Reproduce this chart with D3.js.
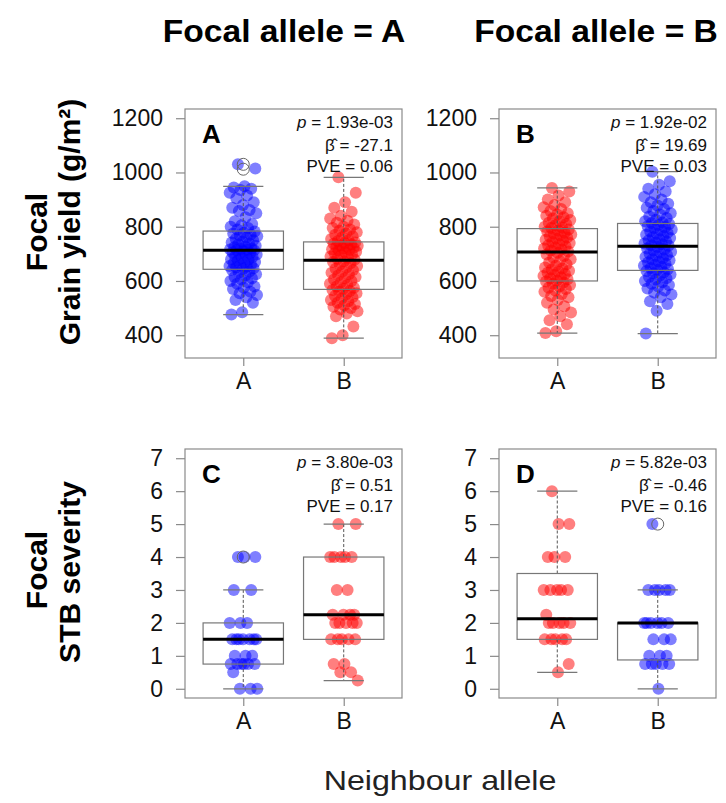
<!DOCTYPE html>
<html><head><meta charset="utf-8">
<script src="https://cdn.jsdelivr.net/npm/d3@7/dist/d3.min.js"></script>
<style>body{margin:0;background:#fff}svg{display:block}text{font-family:"Liberation Sans",Arial,sans-serif}</style>
</head><body>
<script>
// ---------- data ----------
const categories = ["A", "B"];
const yieldTicks = [400, 600, 800, 1000, 1200];
const stbTicks = [0, 1, 2, 3, 4, 5, 6, 7];
const columnTitles = ["Focal allele = A", "Focal allele = B"];
const panelLetters = ["A", "B", "C", "D"];

// Grain yield (g/m2), focal allele A
const yieldFocalA_nbA = [1030,1015,949,945,940,935,925,915,905,890,880,870,862,858,850,835,820,810,805,800,795,790,
  782,778,775,770,768,765,760,755,750,745,742,738,735,730,727,724,720,718,716,715,714,713,
  710,705,702,700,698,695,690,688,685,680,678,675,670,668,665,660,658,655,652,650,647,644,
  640,635,630,625,620,615,610,605,600,595,590,580,575,570,560,555,548,540,530,520,485,476];
const yieldFocalA_nbB = [982,925,890,870,855,840,830,822,815,808,800,795,790,785,780,775,770,765,760,755,750,746,
  742,740,737,735,732,730,727,725,722,720,717,715,712,708,705,702,698,695,690,686,682,678,
  673,670,665,660,655,650,645,640,635,630,625,620,615,610,605,600,595,590,585,580,575,571,
  567,563,560,555,550,545,540,535,530,525,520,515,510,505,500,495,488,480,470,432,400,389];
// Grain yield, focal allele B
const yieldFocalB_nbA = [943,930,915,900,890,880,872,865,858,850,845,840,835,830,825,820,815,810,805,800,797,795,
  790,786,782,778,775,771,768,764,760,756,752,748,744,740,736,732,728,724,720,716,712,709,
  704,698,692,686,680,674,668,662,656,650,646,642,638,634,630,626,622,618,614,610,606,602,
  598,594,590,585,580,575,570,565,560,552,545,540,530,520,507,495,484,470,455,440,415,408];
const yieldFocalB_nbB = [1003,968,955,940,930,920,910,900,890,885,878,870,865,858,850,845,838,832,826,820,816,814,
  810,806,802,798,795,790,786,782,778,774,770,766,762,758,754,750,746,742,738,735,732,730,
  725,720,716,712,708,704,700,696,692,688,684,680,676,672,668,664,660,656,652,648,644,641,
  637,632,628,624,620,615,610,605,600,595,590,585,580,572,565,557,550,540,525,515,490,406];
// STB severity
const stbFocalA_nbA = [4,4,4,3,3,2,2,2,1.5,1.5,1.5,1.5,1.5,1.5,1.5,1,1,1,0.75,0.75,0.75,0.75,0.75,0.75,0.5,0,0,0];
const stbFocalA_nbB = [5,5,4,4,4,4,4,3,3,2.25,2.25,2.25,2.25,2,2,2,2,2,1.5,1.5,1.5,1.5,1.5,0.75,0.75,0.5,0.5,0.25];
const stbFocalB_nbA = [6,5,5,4,4,4,3,3,3,3,3,2.25,2,2,2,2,2,1.5,1.5,1.5,1.5,1.5,0.75,0.5];
const stbFocalB_nbB = [5,3,3,3,3,3,2,2,2,2,2,2,1.5,1.5,1.5,1,1,1,0.75,0.75,0.75,0.75,0.75,0];

// box statistics [lower whisker, Q1, median, Q3, upper whisker]
const boxFocalA_yield = [[476,643,713,784,949],[389,569,676,744,982]];
const boxFocalB_yield = [[408,600,707,793,943],[406,639,728,812,1003]];
const boxFocalA_stb = [[0,0.75,1.5,2,3],[0.25,1.5,2.25,4,5]];
const boxFocalB_stb = [[0.5,1.5,2.125,3.5,6],[0,0.875,2,2,3]];
const outliersFocalA_yield = [[1030,1012],[]];
const outliersFocalB_yield = [[],[]];
const outliersFocalA_stb = [[4],[]];
const outliersFocalB_stb = [[],[5]];

const pValues = ["1.93e-03","1.92e-02","3.80e-03","5.82e-03"];
const betas = ["-27.1","19.69","0.51","-0.46"];
const pves = ["0.06","0.03","0.17","0.16"];

// ---------- drawing ----------
const W = 726, H = 803;
const svg = d3.select("body").append("svg").attr("width", W).attr("height", H);
const BLUE = "#0000ff", RED = "#ff0000";
const FRAME = "#8a8a8a";

function stretch(sel, k) {
  sel.each(function () {
    const L = this.getComputedTextLength();
    d3.select(this).attr("textLength", L * k).attr("lengthAdjust", "spacingAndGlyphs");
  });
}

const panels = [
  {left:185, top:109, data:[yieldFocalA_nbA, yieldFocalA_nbB], box:boxFocalA_yield, out:outliersFocalA_yield, focal:"A", domain:[316,1234], ticks:yieldTicks},
  {left:499, top:109, data:[yieldFocalB_nbA, yieldFocalB_nbB], box:boxFocalB_yield, out:outliersFocalB_yield, focal:"B", domain:[316,1234], ticks:yieldTicks},
  {left:185, top:449, data:[stbFocalA_nbA, stbFocalA_nbB], box:boxFocalA_stb, out:outliersFocalA_stb, focal:"A", domain:[-0.28,7.28], ticks:stbTicks},
  {left:499, top:449, data:[stbFocalB_nbA, stbFocalB_nbB], box:boxFocalB_stb, out:outliersFocalB_stb, focal:"B", domain:[-0.28,7.28], ticks:stbTicks}
];
const PW = 217, PH = 249;

panels.forEach((p, pi) => {
  const g = svg.append("g").attr("transform", `translate(${p.left},${p.top})`);
  const x = d3.scaleLinear().domain([0.42, 2.58]).range([0, PW]);
  const y = d3.scaleLinear().domain(p.domain).range([PH, 0]);
  const boxHalf = x(1.4) - x(1);

  // points
  categories.forEach((c, ci) => {
    const col = c === p.focal ? BLUE : RED;
    g.append("g").selectAll("circle").data(p.data[ci]).join("circle")
      .attr("cx", (d, i) => x(ci + 1 + (((i * 0.6180339887 + 0.31) % 1) - 0.5) * 0.28))
      .attr("cy", d => y(d))
      .attr("r", 6)
      .attr("fill", col).attr("fill-opacity", 0.5);
  });

  // boxes
  categories.forEach((c, ci) => {
    const [lo, q1, med, q3, hi] = p.box[ci];
    const cx = x(ci + 1);
    const bg = g.append("g");
    bg.append("line").attr("x1", cx).attr("x2", cx).attr("y1", y(q3)).attr("y2", y(hi))
      .attr("stroke", "#555").attr("stroke-dasharray", "3,2").attr("stroke-width", 1);
    bg.append("line").attr("x1", cx).attr("x2", cx).attr("y1", y(q1)).attr("y2", y(lo))
      .attr("stroke", "#555").attr("stroke-dasharray", "3,2").attr("stroke-width", 1);
    bg.append("rect").attr("x", cx - boxHalf).attr("width", 2 * boxHalf)
      .attr("y", y(q3)).attr("height", y(q1) - y(q3))
      .attr("fill", "none").attr("stroke", "#777").attr("stroke-width", 1.2);
    [lo, hi].forEach(v => bg.append("line").attr("x1", cx - boxHalf / 2).attr("x2", cx + boxHalf / 2)
      .attr("y1", y(v)).attr("y2", y(v)).attr("stroke", "#777").attr("stroke-width", 1.2));
    bg.append("line").attr("x1", cx - boxHalf).attr("x2", cx + boxHalf).attr("y1", y(med)).attr("y2", y(med))
      .attr("stroke", "#000").attr("stroke-width", 3);
    bg.selectAll("circle").data(p.out[ci]).join("circle")
      .attr("cx", cx).attr("cy", d => y(d)).attr("r", 6)
      .attr("fill", "none").attr("stroke", "#666").attr("stroke-width", 1);
  });

  // frame
  g.append("rect").attr("width", PW).attr("height", PH).attr("fill", "none")
    .attr("stroke", FRAME).attr("stroke-width", 1.2);

  // y axis
  const ya = g.append("g").call(d3.axisLeft(y).tickValues(p.ticks).tickSize(9).tickPadding(13).tickFormat(d3.format("d")));
  ya.select(".domain").remove();
  ya.selectAll("line").attr("stroke", FRAME).attr("stroke-width", 1.2);
  ya.selectAll("text").attr("font-size", 23).attr("fill", "#111").attr("font-family", "Liberation Sans, Arial, sans-serif");

  // x axis
  const xa = g.append("g").attr("transform", `translate(0,${PH})`)
    .call(d3.axisBottom(x).tickValues([1, 2]).tickSize(8).tickPadding(7).tickFormat(d => categories[d - 1]));
  xa.select(".domain").remove();
  xa.selectAll("line").attr("stroke", FRAME).attr("stroke-width", 1.2);
  xa.selectAll("text").attr("font-size", 23).attr("fill", "#111").attr("font-family", "Liberation Sans, Arial, sans-serif");

  // panel letter
  g.append("text").attr("x", 17).attr("y", 34).attr("font-size", 26).attr("font-weight", "bold")
    .text(panelLetters[pi]);

  // annotations
  const rx = PW - 9;
  const t1 = g.append("text").attr("x", rx).attr("y", 19).attr("text-anchor", "end").attr("font-size", 17).attr("fill", "#111");
  t1.append("tspan").attr("font-style", "italic").text("p");
  t1.append("tspan").text("  = " + pValues[pi]);
  g.append("text").attr("x", rx).attr("y", 42).attr("text-anchor", "end").attr("font-size", 17).attr("fill", "#111")
    .text("\u03B2\u0302 = " + betas[pi]);
  g.append("text").attr("x", rx).attr("y", 63).attr("text-anchor", "end").attr("font-size", 17).attr("fill", "#111")
    .text("PVE = " + pves[pi]);
});

// column titles
[284, 596].forEach((cx, i) => {
  const t = svg.append("text").attr("x", cx).attr("y", 42).attr("text-anchor", "middle")
    .attr("font-size", 32).attr("font-weight", "bold").text(columnTitles[i]);
  stretch(t, 1.05);
});

// row labels
function rowLabel(lines, cys) {
  lines.forEach((s, i) => {
    svg.append("text").attr("transform", `translate(${[47, 80][i]},${cys[i]}) rotate(-90)`)
      .attr("text-anchor", "middle").attr("font-size", 30).attr("font-weight", "bold").text(s);
  });
}
rowLabel(["Focal", "Grain yield (g/m²)"], [232, 222]);
rowLabel(["Focal", "STB severity"], [570, 572]);

// x label
const xl = svg.append("text").attr("x", 440).attr("y", 790).attr("text-anchor", "middle")
  .attr("font-size", 28).attr("fill", "#222").text("Neighbour allele");
stretch(xl, 1.15);
</script>
</body></html>
